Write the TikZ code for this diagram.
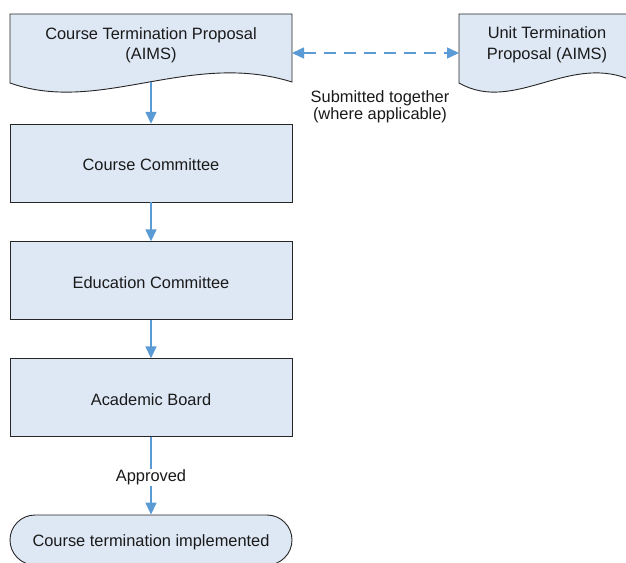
\documentclass[tikz,border=0pt]{standalone}
\usepackage{fontspec}
\setmainfont{Liberation Sans}
\usetikzlibrary{arrows.meta}
\definecolor{boxfill}{HTML}{DEE8F5}
\definecolor{arrowblue}{HTML}{5B9BD5}
\definecolor{txt}{HTML}{1A1A1A}
\begin{document}
\begin{tikzpicture}[x=1pt,y=-1pt,
  every node/.style={text=txt,font=\fontsize{16.4}{20.5}\selectfont},
  procbox/.style={draw=black!85,line width=0.9pt,fill=boxfill,minimum width=282pt,minimum height=78pt,inner sep=0pt,text depth=0pt,yshift=-1.5pt},
  termbox/.style={draw=black!85,line width=0.9pt,fill=boxfill,minimum width=282pt,minimum height=50pt,rounded corners=25pt,inner sep=0pt},
  docline/.style={draw=black!85,line width=0.9pt,fill=boxfill},
  flow/.style={draw=arrowblue,line width=1.5pt,-{Triangle[length=12pt,width=11pt]}},
  dflow/.style={draw=arrowblue,line width=1.5pt,dash pattern=on 12pt off 8pt,{Triangle[length=12pt,width=11pt]}-{Triangle[length=12pt,width=11pt]}},
  lbl/.style={font=\fontsize{16.4}{17}\selectfont,align=center,fill=white,inner sep=1pt}
]
\clip (0,0) rectangle (626,562);
\fill[white] (0,0) rectangle (626,562);
% left document shape
\draw[docline] (10,83) -- (10,14) -- (292,14) -- (292,82)
  .. controls (190,50) and (100,115) .. (10,83) -- cycle;
\node[align=center] (ctp) at (151,45.5) {Course Termination Proposal\\(AIMS)};
\coordinate (ctpb) at (151,82);
\coordinate (ctpr) at (292,53);
% right document shape
\draw[docline] (459,83) -- (459,14) -- (635,14) -- (635,82)
  .. controls (571.5,50) and (515.2,115) .. (459,83) -- cycle;
\node[align=center] (utp) at (547,45) {Unit Termination\\Proposal (AIMS)};
\coordinate (utpl) at (459,53);
% process boxes
\draw[draw=black!85,line width=0.9pt,fill=boxfill] (10,124) rectangle (292,202);
\node[minimum width=282pt,minimum height=78pt,inner sep=0pt] (cc) at (151,163) {};
\node (cct) at (151,165) {Course Committee};
\draw[draw=black!85,line width=0.9pt,fill=boxfill] (10,241.5) rectangle (292,319.5);
\node[minimum width=282pt,minimum height=78pt,inner sep=0pt] (ec) at (151,280.5) {};
\node (ect) at (151,282.5) {Education Committee};
\draw[draw=black!85,line width=0.9pt,fill=boxfill] (10,358.5) rectangle (292,436.5);
\node[minimum width=282pt,minimum height=78pt,inner sep=0pt] (ab) at (151,397.5) {};
\node (abt) at (151,399.5) {Academic Board};
\node[termbox] (cti) at (151,540) {};
\node (ctit) at (151,542) {Course termination implemented};
% connectors
\draw[flow] (ctpb) -- (cc.north);
\draw[flow] (cc.south) -- (ec.north);
\draw[flow] (ec.south) -- (ab.north);
\draw[flow] (ab.south) -- node[lbl,pos=0.5,yshift=-2pt] (appr) {Approved} (cti.north);
\draw[dflow] (ctpr) -- (utpl);
\node[lbl,fill=none] (sub) at (380,107) {Submitted together\\(where applicable)};
\end{tikzpicture}
\end{document}
